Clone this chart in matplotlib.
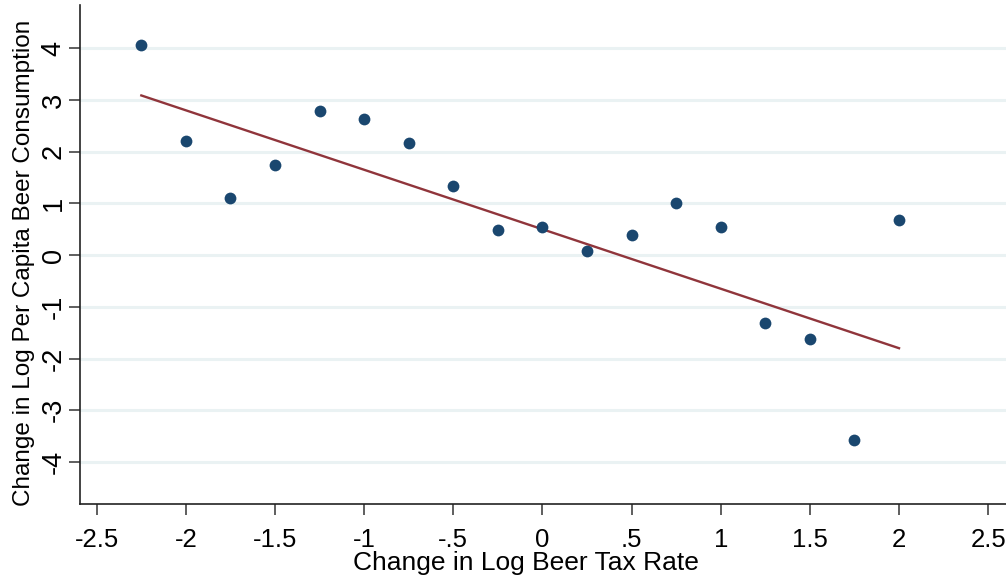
import matplotlib
matplotlib.use("Agg")
import matplotlib.pyplot as plt

plt.rcParams["font.family"] = ["Liberation Sans", "DejaVu Sans"]

# change in log beer tax rate (binned) vs change in log per capita consumption
tax_change = [-2.25, -2.0, -1.75, -1.5, -1.25, -1.0, -0.75, -0.5, -0.25,
              0.0, 0.25, 0.5, 0.75, 1.0, 1.25, 1.5, 1.75, 2.0]
consumption_change = [4.06, 2.20, 1.10, 1.74, 2.79, 2.63, 2.17, 1.33, 0.48,
                      0.54, 0.08, 0.39, 1.01, 0.54, -1.32, -1.62, -3.58, 0.68]

# fitted line endpoints
fit_x = [-2.25, 2.0]
fit_y = [3.09, -1.80]

x_ticks = [-2.5, -2, -1.5, -1, -0.5, 0, 0.5, 1, 1.5, 2, 2.5]
x_tick_labels = ["-2.5", "-2", "-1.5", "-1", "-.5", "0", ".5", "1", "1.5", "2", "2.5"]
y_ticks = [-4, -3, -2, -1, 0, 1, 2, 3, 4]
y_tick_labels = ["-4", "-3", "-2", "-1", "0", "1", "2", "3", "4"]

navy = "#1a476f"
maroon = "#90353b"
grid_col = "#eaf2f3"

fig = plt.figure(figsize=(10.06, 5.86), dpi=100)
ax = fig.add_axes([80 / 1006, 1 - 504.3 / 586, 1 - 80 / 1006, 499.3 / 586])

for yv in y_ticks:
    ax.axhline(yv, color=grid_col, lw=2.2, zorder=0)

ax.scatter(tax_change, consumption_change, s=72, color=navy, zorder=3, linewidths=0)
ax.plot(fit_x, fit_y, color=maroon, lw=1.7, zorder=2)

ax.set_xlim(-2.594, 2.60)
ax.set_ylim(-4.82, 4.84)

ax.set_xticks(x_ticks)
ax.set_xticklabels(x_tick_labels, fontsize=18.5)
ax.set_yticks(y_ticks)
ax.set_yticklabels(y_tick_labels, fontsize=19.5, rotation=90, va="center")

ax.tick_params(axis="both", length=8, width=1.1, color="#333333")
ax.tick_params(axis="x", pad=9)
ax.tick_params(axis="y", pad=1.5)

for side in ["top", "right"]:
    ax.spines[side].set_visible(False)
for side in ["left", "bottom"]:
    ax.spines[side].set_linewidth(1.2)
    ax.spines[side].set_color("#222222")

fig.text(526 / 1006, 1 - 563 / 586, "Change in Log Beer Tax Rate",
         fontsize=19, ha="center", va="center")
fig.text(24 / 1006, 1 - 263 / 586, "Change in Log Per Capita Beer Consumption",
         fontsize=17.5, ha="center", va="center", rotation=90)

fig.savefig("out.png", dpi=100)
